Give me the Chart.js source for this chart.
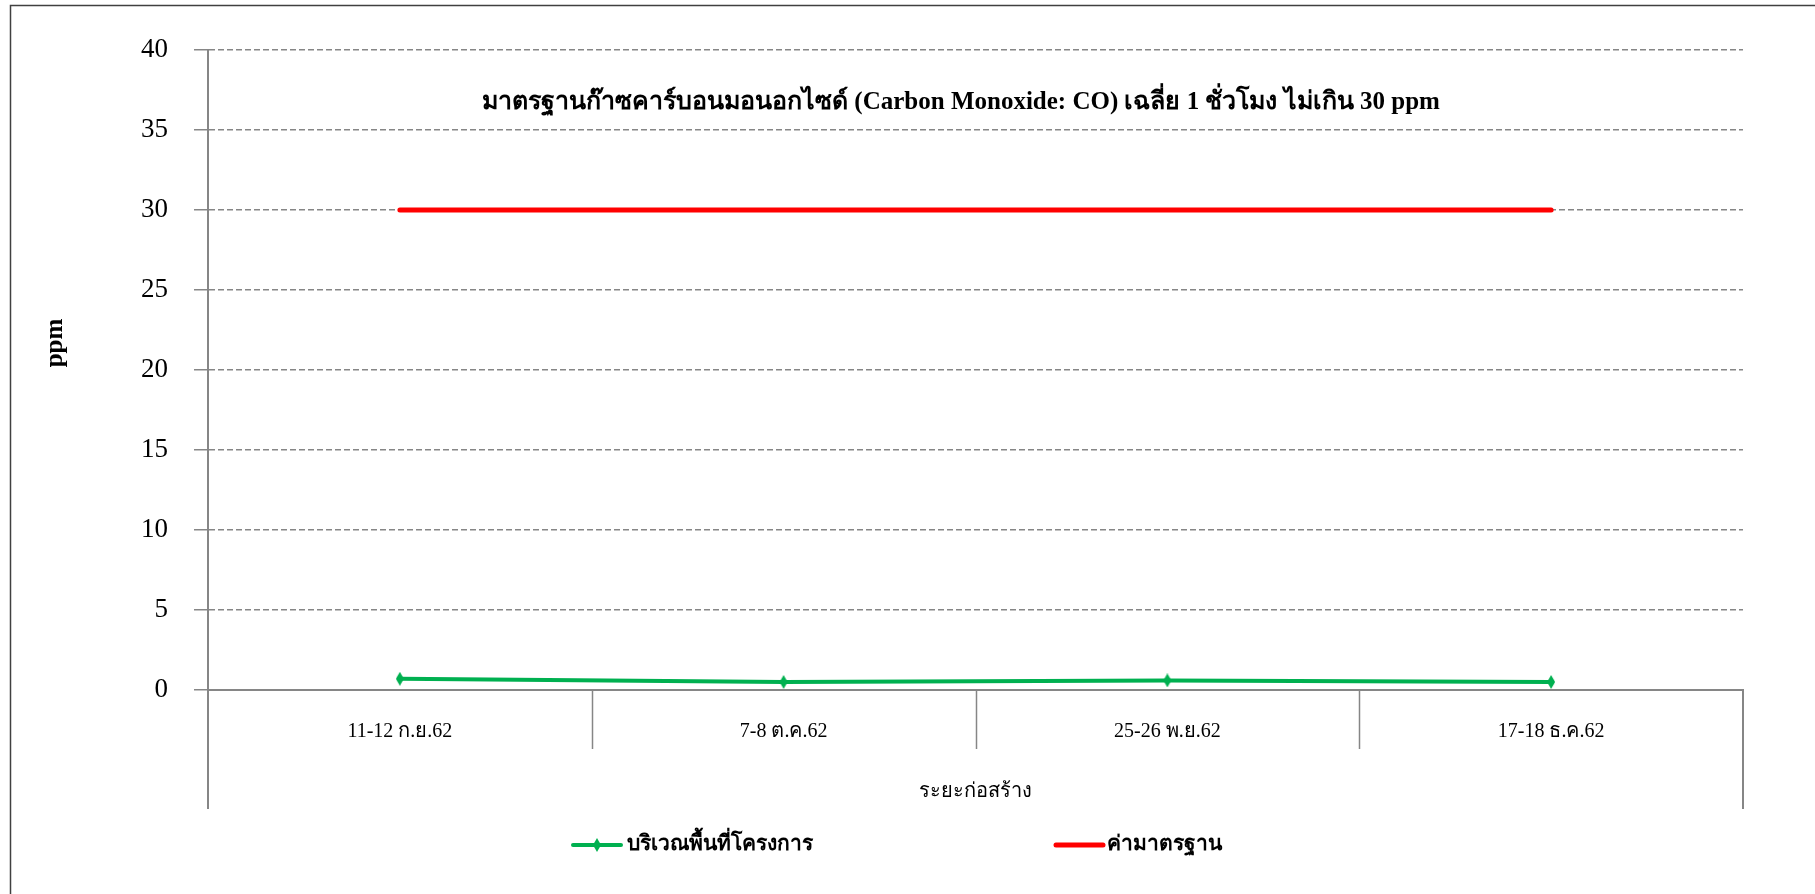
<!DOCTYPE html>
<html>
<head>
<meta charset="utf-8">
<script src="https://cdn.jsdelivr.net/npm/chart.js@4.4.1/dist/chart.umd.min.js"></script>
<style>
  html, body { margin: 0; padding: 0; background: #ffffff; }
  #wrap { width: 1815px; height: 894px; position: relative; }
</style>
</head>
<body>
<div id="wrap"><canvas id="c" width="1815" height="894"></canvas></div>
<script>
// Sampling rounds during construction
const categories = ['11-12 ก.ย.62', '7-8 ต.ค.62', '25-26 พ.ย.62', '17-18 ธ.ค.62'];
// Measured CO at the project site (ppm)
const siteCO = [0.7, 0.5, 0.6, 0.5];
// 1-hour CO standard (ppm)
const standardCO = [30, 30, 30, 30];
const seriesNames = ['บริเวณพื้นที่โครงการ', 'ค่ามาตรฐาน'];
const chartTitle = 'มาตรฐานก๊าซคาร์บอนมอนอกไซด์ (Carbon Monoxide: CO) เฉลี่ย 1 ชั่วโมง ไม่เกิน 30 ppm';
const xTitle = 'ระยะก่อสร้าง';
const yTitle = 'ppm';
const yMin = 0, yMax = 40, yStep = 5;

const FONT = '"Liberation Serif", "Times New Roman", serif';
const GREEN = '#00b050';
const RED = '#ff0000';
const AXIS = '#868686';

// Elongated diamond marker
function diamond(w, h, color) {
  const cv = document.createElement('canvas');
  cv.width = w; cv.height = h;
  const g = cv.getContext('2d');
  g.fillStyle = color;
  g.beginPath();
  g.moveTo(w / 2, 0); g.lineTo(w, h / 2); g.lineTo(w / 2, h); g.lineTo(0, h / 2);
  g.closePath(); g.fill();
  return cv;
}
const marker = diamond(8, 14, GREEN);

// Frame, titles, category separators and legend
const decor = {
  id: 'decor',
  beforeDraw(chart) {
    const ctx = chart.ctx;
    ctx.save();
    ctx.strokeStyle = '#404040';
    ctx.lineWidth = 1.5;
    ctx.beginPath();
    ctx.moveTo(10.5, 894); ctx.lineTo(10.5, 5.5); ctx.lineTo(1815, 5.5);
    ctx.stroke();
    ctx.restore();
  },
  afterDraw(chart) {
    const ctx = chart.ctx;
    const x = chart.scales.x;
    const area = chart.chartArea;
    const n = categories.length;
    ctx.save();
    ctx.strokeStyle = AXIS;
    ctx.lineWidth = 1.5;
    ctx.beginPath();
    for (let i = 1; i < n; i++) {
      const px = Math.round((x.getPixelForValue(i - 1) + x.getPixelForValue(i)) / 2) + 0.5;
      ctx.moveTo(px, area.bottom); ctx.lineTo(px, area.bottom + 59);
    }
    ctx.stroke();
    ctx.lineWidth = 2;
    ctx.beginPath();
    ctx.moveTo(area.left, area.bottom); ctx.lineTo(area.left, area.bottom + 119);
    ctx.moveTo(area.right, area.bottom); ctx.lineTo(area.right, area.bottom + 119);
    ctx.stroke();

    ctx.fillStyle = '#000';
    ctx.textBaseline = 'middle';

    // y-axis title
    ctx.save();
    ctx.translate(56, 343);
    ctx.rotate(-Math.PI / 2);
    ctx.font = 'bold 25px ' + FONT;
    ctx.textAlign = 'center';
    ctx.fillText(yTitle, 0, 0);
    ctx.restore();

    // title inside the plot
    ctx.font = 'bold 25px ' + FONT;
    ctx.textAlign = 'center';
    ctx.fillText(chartTitle, 961, 103);

    // legend
    const ly = 845;
    ctx.font = 'bold 21px ' + FONT;
    ctx.textAlign = 'left';
    ctx.lineCap = 'round';
    ctx.strokeStyle = GREEN; ctx.lineWidth = 4;
    ctx.beginPath(); ctx.moveTo(573, ly); ctx.lineTo(621, ly); ctx.stroke();
    ctx.drawImage(marker, 597 - 4, ly - 7);
    ctx.fillText(seriesNames[0], 627, ly);
    ctx.strokeStyle = RED; ctx.lineWidth = 5;
    ctx.beginPath(); ctx.moveTo(1056, ly); ctx.lineTo(1103, ly); ctx.stroke();
    ctx.fillText(seriesNames[1], 1107, ly);
    ctx.restore();
  }
};

new Chart(document.getElementById('c'), {
  type: 'line',
  data: {
    labels: categories,
    datasets: [
      {
        label: seriesNames[0],
        data: siteCO,
        borderColor: GREEN,
        backgroundColor: GREEN,
        borderWidth: 4,
        pointStyle: marker,
        pointRadius: 6,
        tension: 0,
        order: 1
      },
      {
        label: seriesNames[1],
        data: standardCO,
        borderColor: RED,
        backgroundColor: RED,
        borderWidth: 5,
        pointRadius: 0,
        borderCapStyle: 'round',
        tension: 0,
        order: 2
      }
    ]
  },
  options: {
    responsive: false,
    animation: false,
    events: [],
    layout: { padding: { left: 40, right: 72, top: 50, bottom: 84 } },
    plugins: {
      legend: { display: false },
      title: { display: false },
      tooltip: { enabled: false }
    },
    scales: {
      x: {
        offset: true,
        grid: { display: false, drawTicks: false, offset: true },
        border: { display: true, color: AXIS, width: 2 },
        ticks: { color: '#000', font: { family: FONT, size: 20 }, padding: 30, maxRotation: 0 },
        title: { display: true, text: xTitle, color: '#000', font: { family: FONT, size: 20 }, padding: { top: 0, bottom: 6 } },
        afterFit(scale) { scale.height = 120; }
      },
      y: {
        min: yMin, max: yMax,
        ticks: { stepSize: yStep, color: '#000', font: { family: FONT, size: 27 }, padding: 26 },
        grid: {
          color: ctx => (ctx.tick && ctx.tick.value === 0) ? 'rgba(0,0,0,0)' : AXIS,
          tickColor: AXIS,
          lineWidth: 1.5,
          tickBorderDash: [],
          tickLength: 14
        },
        border: { display: true, color: AXIS, width: 2, dash: [6, 3] },
        afterFit(scale) { scale.width = 168; }
      }
    }
  },
  plugins: [decor]
});
</script>
</body>
</html>
